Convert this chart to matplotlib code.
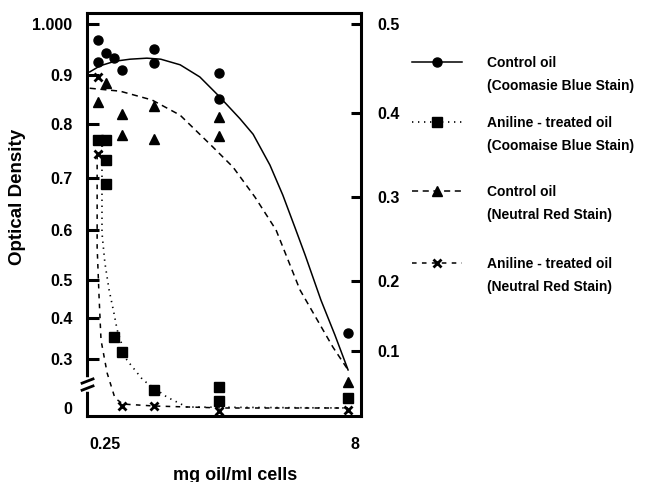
import numpy as np
import matplotlib
matplotlib.use('Agg')
import matplotlib.pyplot as plt
from matplotlib.lines import Line2D
from matplotlib.transforms import ScaledTranslation

# dose, mg oil/ml cells; optical density read against the left axis
cb_ctrl_x = [0.25, 0.25, 0.5, 0.75, 1.0, 2.0, 2.0, 4.0, 4.0, 8.0]
cb_ctrl_y = [0.969, 0.925, 0.943, 0.933, 0.910, 0.951, 0.924, 0.904, 0.851, 0.363]

cb_anil_x = [0.25, 0.5, 0.5, 0.5, 0.75, 1.0, 2.0, 4.0, 4.0, 8.0]
cb_anil_y = [0.770, 0.770, 0.733, 0.689, 0.354, 0.317, 0.110, 0.129, 0.043, 0.061]

nr_ctrl_x = [0.25, 0.5, 1.0, 1.0, 2.0, 2.0, 4.0, 4.0, 8.0]
nr_ctrl_y = [0.845, 0.884, 0.820, 0.780, 0.837, 0.772, 0.814, 0.778, 0.159]

nr_anil_x = [0.25, 0.25, 1.0, 2.0, 4.0, 8.0]
nr_anil_y = [0.896, 0.744, 0.012, 0.012, -0.02, -0.012]

# hand drawn fitted curves
cb_ctrl_fit_x = [0.0, 0.32, 0.78, 1.25, 1.77, 2.2, 2.8, 3.41, 3.97, 4.65, 5.06, 5.58,
                 5.98, 6.36, 6.67, 7.16, 7.59, 8.0]
cb_ctrl_fit_y = [0.906, 0.918, 0.927, 0.931, 0.933, 0.931, 0.920, 0.896, 0.859, 0.811,
                 0.781, 0.724, 0.667, 0.604, 0.55, 0.447, 0.359, 0.233]

nr_ctrl_fit_x = [0.0, 0.94, 1.93, 2.80, 3.82, 4.44, 5.12, 5.77, 6.51, 7.53, 8.0]
nr_ctrl_fit_y = [0.873, 0.867, 0.849, 0.818, 0.757, 0.720, 0.663, 0.600, 0.474, 0.329, 0.233]

cb_anil_fit_x = [0.38, 0.38, 0.47, 0.60, 0.75, 0.85, 1.15, 1.65, 2.39, 3.01, 8.0]
cb_anil_fit_y = [0.76, 0.594, 0.534, 0.474, 0.413, 0.371, 0.294, 0.171, 0.067, 0.006, 0.0]

nr_anil_fit_x = [0.23, 0.23, 0.29, 0.35, 0.54, 0.78, 1.03, 2.02, 4.13, 8.0]
nr_anil_fit_y = [0.743, 0.566, 0.455, 0.346, 0.214, 0.061, 0.024, 0.012, 0.0, 0.0]

left_ticks = [0, 0.3, 0.4, 0.5, 0.6, 0.7, 0.8, 0.9, 1.0]
left_labels = ['0', '0.3', '0.4', '0.5', '0.6', '0.7', '0.8', '0.9', '1.000']
right_ticks = [0.1, 0.2, 0.3, 0.4, 0.5]
right_labels = ['0.1', '0.2', '0.3', '0.4', '0.5']

# the original axes are hand ruled: tick heights (px above the x axis line)
left_tick_pos = [8, 57, 98, 136, 186, 238, 292, 341, 392]
right_tick_pos = [65, 135, 219, 303, 392]
AX_H = 403

plt.rcParams['font.family'] = ['Liberation Sans', 'DejaVu Sans']
plt.rcParams['font.weight'] = 'bold'
plt.rcParams['axes.labelweight'] = 'bold'


def ruled_scale(vals, pos):
    vals = np.asarray(vals, float)
    pos = np.asarray(pos, float)
    s0 = (pos[1] - pos[0]) / (vals[1] - vals[0])
    s1 = (pos[-1] - pos[-2]) / (vals[-1] - vals[-2])
    v = np.concatenate([[vals[0] - 10], vals, [vals[-1] + 10]])
    p = np.concatenate([[pos[0] - 10 * s0], pos, [pos[-1] + 10 * s1]])

    def fwd(a):
        return np.interp(a, v, p)

    def inv(a):
        return np.interp(a, p, v)
    return fwd, inv


fig = plt.figure(figsize=(6.45, 4.82), dpi=100)
ax = fig.add_axes([87 / 645, 1 - 416 / 482, 274 / 645, AX_H / 482])

fwd_l, inv_l = ruled_scale(left_ticks, left_tick_pos)
ax.set_yscale('function', functions=(fwd_l, inv_l))
ax.set_ylim(inv_l(0), inv_l(AX_H))
ax.set_xlim(-0.084, 8.40)

ax.plot(cb_ctrl_fit_x, cb_ctrl_fit_y, color='k', lw=1.1)
ax.plot(nr_ctrl_fit_x, nr_ctrl_fit_y, color='k', lw=1.1, dashes=(4, 3))
ax.plot(cb_anil_fit_x, cb_anil_fit_y, color='k', lw=1.2, dashes=(0.8, 2.8))
ax.plot(nr_anil_fit_x, nr_anil_fit_y, color='k', lw=1.1, dashes=(3, 3.5))

ax.plot(cb_ctrl_x, cb_ctrl_y, 'o', color='k', ms=6.5, clip_on=False)
ax.plot(cb_anil_x, cb_anil_y, 's', color='k', ms=6.5, clip_on=False)
ax.plot(nr_ctrl_x, nr_ctrl_y, '^', color='k', ms=7, clip_on=False)
ax.plot(nr_anil_x, nr_anil_y, 'x', color='k', ms=6, mew=2, clip_on=False)

for sp in ax.spines.values():
    sp.set_linewidth(2.2)

ax.set_yticks(left_ticks[1:], left_labels[1:])
ax.set_yticks(left_ticks[:1], left_labels[:1], minor=True)
ax.tick_params(axis='y', which='major', direction='in', length=8.5, width=2.2,
               pad=10.5, labelsize=11.5, right=False)
ax.tick_params(axis='y', which='minor', length=0, pad=10.5, labelsize=11.5)

ax.set_xticks([0.25, 8], ['0.25', '8'])
ax.tick_params(axis='x', length=0, pad=15, labelsize=11.5)
shift = ScaledTranslation(5 / 72, 0, fig.dpi_scale_trans)
for lab in ax.get_xticklabels():
    lab.set_transform(lab.get_transform() + shift)

ax.set_xlabel('mg oil/ml cells', fontsize=13, fontweight='bold', va='center')
ax.xaxis.set_label_coords((235 - 87) / 274, (416 - 475) / AX_H)
ax.set_ylabel('Optical Density', fontsize=13.5, fontweight='bold', va='center', ha='center')
ax.yaxis.set_label_coords((18 - 87) / 274, (416 - 197) / AX_H)

# axis break on the left spine
brk = ax.get_yaxis_transform()
ax.plot([0, 0], [0.118, 0.17], color='white', lw=4, transform=brk, clip_on=False, zorder=3)
for yb in [0.122, 0.165]:
    ax.plot([-0.018, 0.022], [yb - 0.013, yb + 0.013], color='k', lw=2,
            transform=brk, clip_on=False, zorder=4)

ax2 = ax.twinx()
fwd_r, inv_r = ruled_scale(right_ticks, right_tick_pos)
ax2.set_yscale('function', functions=(fwd_r, inv_r))
ax2.set_ylim(inv_r(0), inv_r(AX_H))
ax2.set_yticks(right_ticks, right_labels)
ax2.yaxis.set_minor_locator(matplotlib.ticker.NullLocator())
ax2.tick_params(axis='y', direction='in', length=7, width=2.2, pad=12, labelsize=11.5)
for sp in ax2.spines.values():
    sp.set_visible(False)

# legend: one small legend per series so the handle sits on the first line
blank = Line2D([], [], color='none')
entries = [
    (Line2D([], [], color='k', lw=1.1, marker='o', ms=6.5), 'Control oil', '(Coomasie Blue Stain)'),
    (Line2D([], [], color='k', lw=1.2, dashes=(0.8, 2.8), marker='s', ms=6.5),
     'Aniline - treated oil', '(Coomaise Blue Stain)'),
    (Line2D([], [], color='k', lw=1.1, dashes=(4, 3), marker='^', ms=7), 'Control oil', '(Neutral Red Stain)'),
    (Line2D([], [], color='k', lw=1.1, dashes=(3, 3.5), marker='x', ms=6, mew=2),
     'Aniline - treated oil', '(Neutral Red Stain)'),
]
legend_tops = [56, 116, 185, 257]
for (h, l1, l2), top in zip(entries, legend_tops):
    fig.legend([h, blank], [l1, l2], loc='upper left', bbox_to_anchor=(412 / 645, 1 - top / 482),
               frameon=False, borderpad=0, borderaxespad=0, handlelength=3.6,
               handletextpad=1.8, labelspacing=0.65, fontsize=10)

fig.savefig('out.png', dpi=100)
